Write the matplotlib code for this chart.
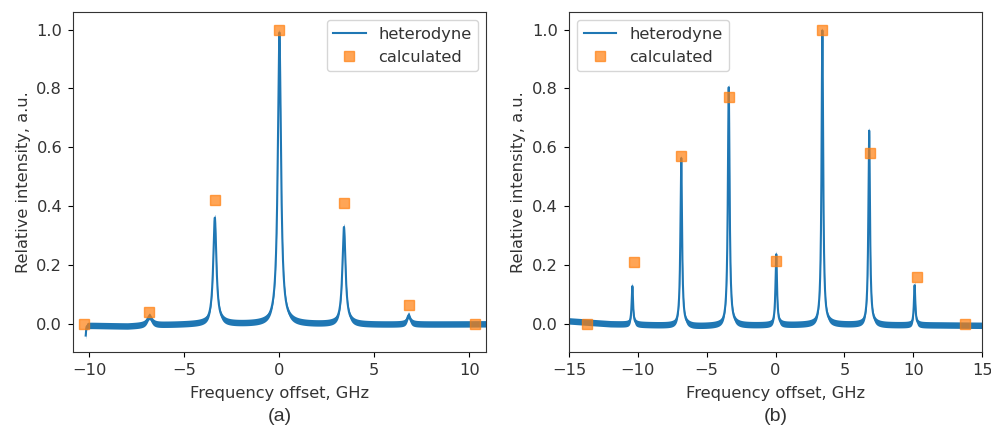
import numpy as np
import matplotlib.pyplot as plt
from matplotlib.ticker import MultipleLocator

# calculated line intensities
calc_a_x = [-10.3, -6.85, -3.4, 0.0, 3.4, 6.85, 10.3]
calc_a_y = [0.0, 0.04, 0.42, 1.0, 0.41, 0.063, 0.0]
calc_b_x = [-13.7, -10.3, -6.85, -3.4, 0.0, 3.4, 6.85, 10.25, 13.75]
calc_b_y = [0.0, 0.21, 0.57, 0.77, 0.215, 1.0, 0.58, 0.16, 0.0]

# heterodyne peaks: centre, height, half width
het_a_pos = [-10.2, -6.85, -3.4, 0.0, 3.4, 6.8]
het_a_amp = [-0.035, 0.03, 0.36, 0.99, 0.33, 0.03]
het_a_wid = [0.02, 0.15, 0.1, 0.1, 0.1, 0.1]
het_b_pos = [-10.4, -6.85, -3.4, 0.05, 3.4, 6.8, 10.1]
het_b_amp = [0.13, 0.57, 0.81, 0.24, 1.0, 0.66, 0.135]
het_b_wid = [0.06, 0.07, 0.075, 0.065, 0.07, 0.07, 0.06]

# slow baseline drift read at a few frequencies
base_a_x = [-10.2, -8, -6, -4, 0, 4, 8, 11]
base_a_y = [-0.005, -0.008, -0.003, 0.0, 0.0, -0.002, -0.001, 0.0]
base_b_x = [-15, -12, -8, -6, -4, 0, 4, 8, 12, 15]
base_b_y = [0.01, 0.0, -0.005, -0.008, -0.006, -0.004, -0.002, -0.004, -0.004, -0.005]


def trace(x0, x1, pos, amp, wid, bx, by):
    x = np.linspace(x0, x1, 6000)
    y = np.interp(x, bx, by)
    for p, a, w in zip(pos, amp, wid):
        y = y + a / (1 + ((x - p) / w) ** 2)
    return x, y


blue = '#1f77b4'
orange = '#ff7f0e'
txt = '#333333'

fig, axes = plt.subplots(1, 2, figsize=(9.91, 4.28), dpi=100)
fig.subplots_adjust(left=0.074, right=0.991, top=0.972, bottom=0.178, wspace=0.2)

panels = [
    (axes[0], (-10.2, 11.0), het_a_pos, het_a_amp, het_a_wid, base_a_x, base_a_y,
     calc_a_x, calc_a_y, (-10.85, 10.9), 'upper right', '(a)'),
    (axes[1], (-15.0, 15.0), het_b_pos, het_b_amp, het_b_wid, base_b_x, base_b_y,
     calc_b_x, calc_b_y, (-15, 15), 'upper left', '(b)'),
]

for ax, rng, pos, amp, wid, bx, by, cx, cy, xlim, loc, tag in panels:
    x, y = trace(rng[0], rng[1], pos, amp, wid, bx, by)
    ax.fill_between(x, y - 0.011, y + 0.011, color=blue, lw=0)
    ax.plot(x, y, color=blue, lw=1.5, label='heterodyne')
    ax.plot(cx, cy, 's', color=orange, alpha=0.7, ms=7.5, label='calculated')
    ax.set_xlim(*xlim)
    ax.set_ylim(-0.095, 1.06)
    ax.xaxis.set_major_locator(MultipleLocator(5))
    ax.set_xlabel('Frequency offset, GHz', fontsize=11.7, color=txt, labelpad=6)
    ax.set_ylabel('Relative intensity, a.u.', fontsize=11.7, color=txt)
    ax.tick_params(labelsize=11.7, labelcolor=txt, pad=4.5)
    for s in ax.spines.values():
        s.set_color('#333333')
    leg = ax.legend(loc=loc, fontsize=11.7)
    for t in leg.get_texts():
        t.set_color(txt)
    pos_ax = ax.get_position()
    fig.text((pos_ax.x0 + pos_ax.x1) / 2, 0.027, tag, ha='center', va='center',
             fontsize=14, family='Liberation Sans', color=txt)

fig.savefig('out.png', dpi=100)
